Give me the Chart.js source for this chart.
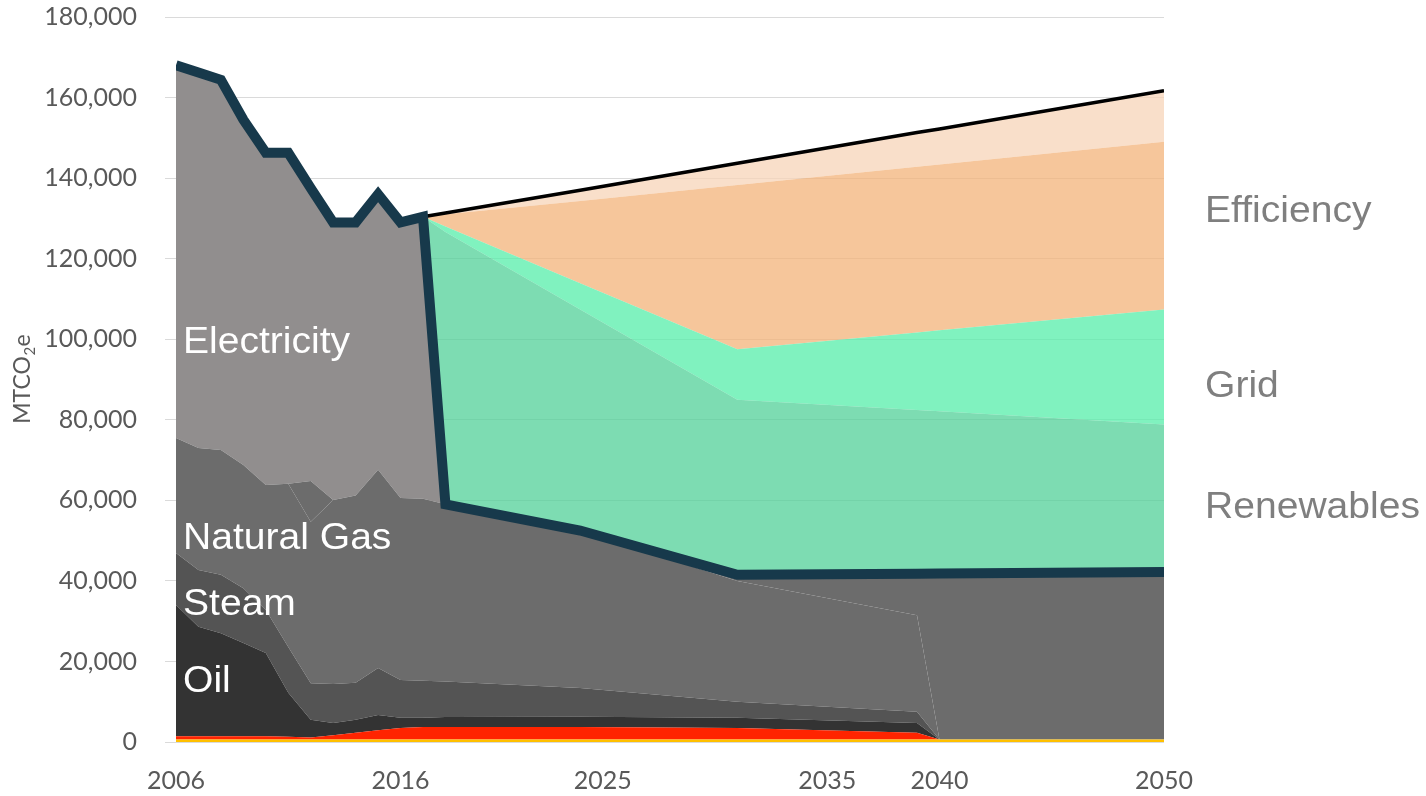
<!DOCTYPE html>
<html>
<head>
<meta charset="utf-8">
<script src="https://cdn.jsdelivr.net/npm/chart.js@4.4.1/dist/chart.umd.min.js"></script>
<style>
  html, body { margin: 0; padding: 0; background: #ffffff; }
  #wrap { width: 1426px; height: 796px; }
</style>
</head>
<body>
<div id="wrap"><canvas id="chart" width="1426" height="796"></canvas></div>
<script>
// Emissions by source (MTCO2e): measured history 2006-2017, then the plan to 2050.
const years = [2006, 2007, 2008, 2009, 2010, 2011, 2012, 2013, 2014, 2015, 2016, 2017, 2018, 2024, 2031, 2039, 2040, 2050];

const otherFuels  = [600, 600, 600, 600, 600, 600, 600, 600, 600, 600, 600, 600, 600, 600, 600, 600, 600, 600];
const gasoline    = [800, 800, 800, 800, 800, 700, 500, 1100, 1700, 2300, 2900, 3100, 3100, 3100, 2900, 1700, 0, 0];
const oil         = [32600, 27200, 25600, 23200, 20700, 10900, 4400, 3000, 3200, 3800, 2500, 2300, 2500, 2600, 2500, 2400, 0, 0];
const steam       = [12900, 14100, 14500, 13600, 10700, 11400, 9100, 9700, 9200, 11700, 9400, 9200, 8800, 7100, 4000, 2800, 0, 0];
const naturalGas  = [28600, 30300, 31000, 30600, 31000, 40500, 40100, 45700, 46500, 49200, 45200, 45200, 44000, 39100, 30000, 24000, 0, 0];
const remaining   = [0, 0, 0, 0, 0, 0, 10100, 0, 0, 0, 0, 0, 0, 0, 1500, 10300, 41250, 41600];
const electricity = [92500, 93200, 91900, 85700, 82500, 82200, 72700, 68900, 67800, 68400, 68400, 70000, 0, 0, 0, 0, 0, 0];
const renewables  = [0, 0, 0, 0, 0, 0, 0, 0, 0, 0, 0, 0, 67600, 54900, 43500, 40600, 40250, 36600];
const grid        = [0, 0, 0, 0, 0, 0, 0, 0, 0, 0, 0, 0, 1400, 6500, 12500, 19300, 20100, 28600];
const efficiency  = [0, 0, 0, 0, 0, 0, 0, 0, 0, 0, 0, 0, 3000, 20400, 40800, 41100, 41200, 41600];
const efficiencyGrowth = [0, 0, 0, 0, 0, 0, 0, 0, 0, 0, 0, 0, 350, 2700, 5400, 8500, 8800, 12700];

// Total emissions path (dark outline) and business-as-usual projection (black line).
const totalEmissions = [168000, 166200, 164400, 154500, 146300, 146300, 137500, 129000, 129000, 136000, 129000, 130400, 59000, 52500, 41500, 41800, 41850, 42200];
const bauYears = [2017, 2018, 2024, 2031, 2039, 2040, 2050];
const businessAsUsual = [130400, 131350, 137000, 143700, 151300, 152200, 161700];

const xTickYears = [2006, 2016, 2025, 2035, 2040, 2050];

const toPoints = (xs, ys) => xs.map((x, i) => ({ x: x, y: ys[i] }));

function area(label, values, color, first) {
  return {
    type: 'line',
    label: label,
    data: toPoints(years, values),
    stack: 'emissions',
    fill: first ? 'origin' : '-1',
    backgroundColor: color,
    borderColor: 'rgba(0,0,0,0)',
    borderWidth: 0,
    pointRadius: 0,
    tension: 0,
    order: 1
  };
}

const datasets = [
  area('Other fuels', otherFuels, '#ffc000', true),
  area('Gasoline', gasoline, '#ff2400'),
  area('Oil', oil, '#333333'),
  area('Steam', steam, '#545454'),
  area('Natural Gas', naturalGas, '#6c6c6c'),
  area('Remaining fuels', remaining, '#6c6c6c'),
  area('Electricity', electricity, '#918e8e'),
  area('Renewables', renewables, 'rgba(82,208,152,0.75)'),
  area('Grid', grid, 'rgba(86,238,170,0.75)'),
  area('Efficiency', efficiency, 'rgba(243,179,122,0.75)'),
  area('Efficiency (growth)', efficiencyGrowth, 'rgba(247,212,184,0.75)'),
  {
    type: 'line',
    label: 'Business as usual',
    data: toPoints(bauYears, businessAsUsual),
    stack: 'bau',
    fill: false,
    borderColor: '#000000',
    borderWidth: 3.5,
    pointRadius: 0,
    tension: 0,
    order: 0
  },
  {
    type: 'line',
    label: 'Total emissions',
    data: toPoints(years, totalEmissions),
    stack: 'total',
    fill: false,
    borderColor: '#17394b',
    borderWidth: 10,
    borderJoinStyle: 'miter',
    borderCapStyle: 'butt',
    pointRadius: 0,
    tension: 0,
    order: -1
  }
];

// Names written inside / beside the stacked areas.
const areaNames = [
  { text: 'Electricity', year: 2006, value: 100000, side: 'left' },
  { text: 'Natural Gas', year: 2006, value: 51400, side: 'left' },
  { text: 'Steam', year: 2006, value: 35000, side: 'left' },
  { text: 'Oil', year: 2006, value: 15900, side: 'left' },
  { text: 'Efficiency', year: 2050, value: 132600, side: 'right' },
  { text: 'Grid', year: 2050, value: 89200, side: 'right' },
  { text: 'Renewables', year: 2050, value: 59100, side: 'right' }
];

const areaNamesPlugin = {
  id: 'areaNames',
  afterDatasetsDraw(chart) {
    const ctx = chart.ctx;
    const xs = chart.scales.x, ys = chart.scales.y;
    ctx.save();
    ctx.font = '36px "Liberation Sans", Arial, sans-serif';
    ctx.textBaseline = 'middle';
    ctx.textAlign = 'left';
    areaNames.forEach(n => {
      const px = n.side === 'left' ? xs.getPixelForValue(n.year) + 7 : xs.getPixelForValue(n.year) + 41;
      const py = ys.getPixelForValue(n.value) + 4;
      ctx.fillStyle = n.side === 'left' ? '#ffffff' : '#7f7f7f';
      ctx.save();
      ctx.translate(px, py);
      ctx.scale(1.085, 1);
      ctx.fillText(n.text, 0, 0);
      ctx.restore();
    });
    ctx.restore();
  }
};

// Rotated y-axis title with a subscript 2.
const yTitlePlugin = {
  id: 'yTitle',
  afterDraw(chart) {
    const ctx = chart.ctx;
    const big = '23px Lato, "Open Sans", sans-serif';
    const small = '15px Lato, "Open Sans", sans-serif';
    ctx.save();
    ctx.fillStyle = '#595959';
    ctx.textBaseline = 'alphabetic';
    ctx.font = big;
    const w1 = ctx.measureText('MTCO').width;
    const w3 = ctx.measureText('e').width;
    ctx.font = small;
    const w2 = ctx.measureText('2').width;
    const total = w1 + w2 + w3 + 1;
    ctx.translate(30, 379);
    ctx.rotate(-Math.PI / 2);
    let x = -total / 2;
    ctx.font = big;
    ctx.fillText('MTCO', x, 0);
    x += w1;
    ctx.font = small;
    ctx.fillText('2', x + 0.5, 5);
    x += w2 + 1;
    ctx.font = big;
    ctx.fillText('e', x, 0);
    ctx.restore();
  }
};

const tickFont = { family: 'Lato, "Open Sans", sans-serif', size: 25 };

new Chart(document.getElementById('chart'), {
  type: 'line',
  data: { datasets: datasets },
  options: {
    responsive: false,
    animation: false,
    devicePixelRatio: 1,
    layout: { padding: { left: 0, right: 262, top: 17, bottom: 0 } },
    plugins: { legend: { display: false }, tooltip: { enabled: false } },
    elements: { point: { radius: 0 } },
    scales: {
      x: {
        type: 'linear',
        min: 2006,
        max: 2050,
        grid: { display: false, drawTicks: false },
        border: { display: false },
        afterBuildTicks: s => { s.ticks = xTickYears.map(v => ({ value: v })); },
        afterFit: s => { s.height = 54; s.paddingLeft = 0; s.paddingRight = 0; },
        ticks: {
          font: tickFont,
          color: '#595959',
          padding: 24,
          autoSkip: false,
          maxRotation: 0,
          callback: v => String(v)
        }
      },
      y: {
        min: 0,
        max: 180000,
        stacked: true,
        border: { display: false },
        grid: { color: '#dadada', lineWidth: 1, drawTicks: true, tickLength: 11, tickColor: '#dadada' },
        afterFit: s => { s.width = 176; s.paddingTop = 0; s.paddingBottom = 0; },
        ticks: {
          stepSize: 20000,
          padding: 28,
          font: tickFont,
          color: '#595959',
          callback: v => v.toLocaleString('en-US')
        }
      }
    }
  },
  plugins: [areaNamesPlugin, yTitlePlugin]
});
</script>
</body>
</html>
